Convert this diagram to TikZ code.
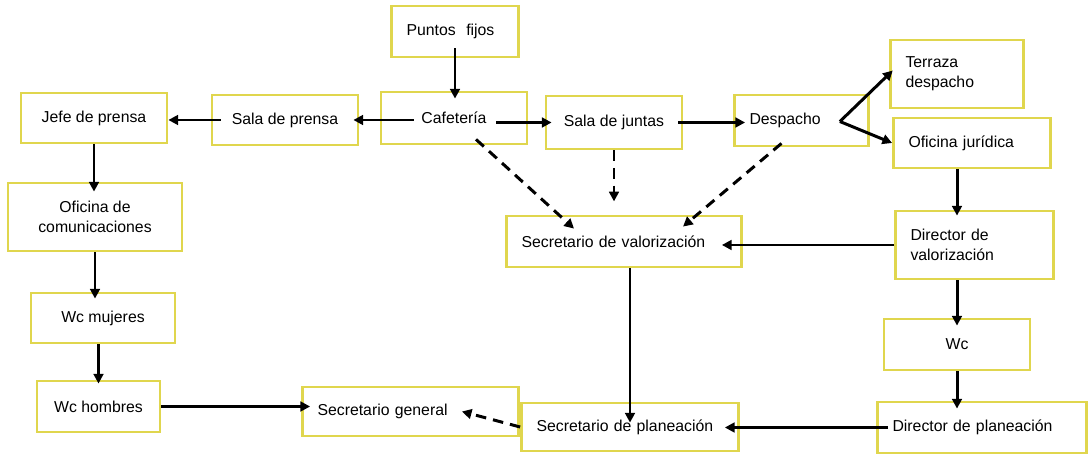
\documentclass[tikz,border=0pt]{standalone}
\usepackage{fontspec}
\setmainfont{Liberation Sans}
\usetikzlibrary{arrows.meta, calc}
\definecolor{boxyellow}{RGB}{224,214,78}

\begin{document}
\begin{tikzpicture}[
    x=0.02cm, y=-0.02cm, >={Triangle[length=5.5pt, width=5.5pt]},
    box/.style={draw=boxyellow, line width=1.6pt, fill=white,
      font=\fontsize{9}{11.4}\selectfont, inner sep=0pt, align=center},
    lbox/.style={box, inner xsep=0.3cm, align=left},
    flow/.style={->, line width=1.7pt},
    dflow/.style={flow, dash pattern=on 6pt off 4pt},
    into/.style={shorten >=-#1},
    outof/.style={shorten <=-#1}
  ]
  \useasboundingbox (0,0) rectangle (1089,455);

  % top row
  \node[lbox, text width=1.94cm, minimum height=1.02cm] (fijos) at (455,31.5) {Puntos\ \ fijos};
  \node[box, minimum width=2.92cm, minimum height=1.04cm] (cafe) at (454,118) {Cafetería};
  \node[box, minimum width=2.72cm, minimum height=1.06cm] (juntas) at (614,122.5) {Sala de juntas};
  \node[lbox, text width=2.08cm, minimum height=1.02cm] (despacho) at (801.5,120.5) {Despacho};
  \node[lbox, text width=2.06cm, minimum height=1.36cm] (terraza) at (957,74) {Terraza\\despacho};
  \node[lbox, text width=2.54cm, minimum height=1.0cm] (juridica) at (972,143) {Oficina jurídica};
  \node[box, minimum width=2.92cm, minimum height=1.0cm] (sprensa) at (285,120) {Sala de prensa};
  \node[box, minimum width=2.92cm, minimum height=1.0cm] (jefe) at (94,118) {Jefe de prensa};

  % left column
  \node[box, minimum width=3.48cm, minimum height=1.36cm] (comun) at (95,217) {Oficina de\\comunicaciones};
  \node[box, minimum width=2.88cm, minimum height=1.0cm] (mujeres) at (103,318) {Wc mujeres};
  \node[box, minimum width=2.46cm, minimum height=1.02cm] (hombres) at (98.5,406.5) {Wc hombres};

  % middle and right
  \node[lbox, text width=4.1cm, minimum height=1.02cm] (sval) at (624,241.5) {Secretario de valorización};
  \node[lbox, text width=2.56cm, minimum height=1.36cm] (dval) at (974.5,245) {Director de\\valorización};
  \node[box, minimum width=2.92cm, minimum height=1.02cm] (wc) at (957,344.5) {Wc};
  \node[lbox, text width=3.58cm, minimum height=1.02cm] (dplan) at (982,427.5) {Director de planeación};
  \node[lbox, text width=3.72cm, minimum height=0.98cm] (sgen) at (410.5,411.5) {Secretario general};
  \node[lbox, text width=3.74cm, minimum height=0.96cm] (splan) at (630,427) {Secretario de planeación};

  % solid arrows
  \draw[flow, outof=0.2cm, into=0.16cm] (fijos.south) -- (fijos.south |- cafe.north);
  \draw[flow, outof=0.68cm, into=0.12cm] (cafe.west |- sprensa.east) -- (sprensa.east);
  \draw[flow, outof=0.2cm] (sprensa.west) -- (sprensa.west -| jefe.east);
  \draw[flow, outof=0.64cm, into=0.14cm] (cafe.east |- juntas.west) -- (juntas.west);
  \draw[flow, outof=0.1cm, into=0.24cm] (juntas.east) -- (juntas.east -| despacho.west);
  \coordinate (fork) at ($(despacho.east)+(-30,1)$);
  \draw[flow, into=0.1cm] (fork) -- (terraza.west);
  \draw[flow] (fork) -- (juridica.west);
  \draw[flow, into=0.12cm] (juridica.south -| wc) -- (dval.north -| wc);
  \draw[flow, into=0.42cm] (dval.west) -- (dval.west -| sval.east);
  \draw[flow, into=0.16cm] (dval.south -| wc) -- (wc.north);
  \draw[flow, into=0.16cm] (wc.south) -- (wc.south |- dplan.north);
  \draw[flow, outof=0.24cm, into=0.3cm] (dplan.west) -- (dplan.west -| splan.east);
  \draw[flow, into=0.42cm] (sval.south -| splan) -- (splan.north);
  \draw[flow, into=0.2cm] (jefe.south) -- (jefe.south |- comun.north);
  \draw[flow, into=0.14cm] (comun.south) -- (comun.south |- mujeres.north);
  \draw[flow, into=0.08cm] (mujeres.south -| hombres) -- (hombres.north);
  \draw[flow, into=0.18cm] (hombres.east) -- (hombres.east -| sgen.west);

  % dashed arrows
  \draw[dflow] ($(cafe.south)+(22,-6)$) -- ($(sval.north)+(-50,14)$);
  \draw[dflow] (juntas.south) -- ($(juntas.south)+(0,51)$);
  \draw[dflow] ($(despacho.south)+(-20,-4)$) -- ($(sval.north)+(59,12)$);
  \draw[dflow] (splan.west) -- ($(sgen.east)+(-58,0)$);
\end{tikzpicture}
\end{document}
